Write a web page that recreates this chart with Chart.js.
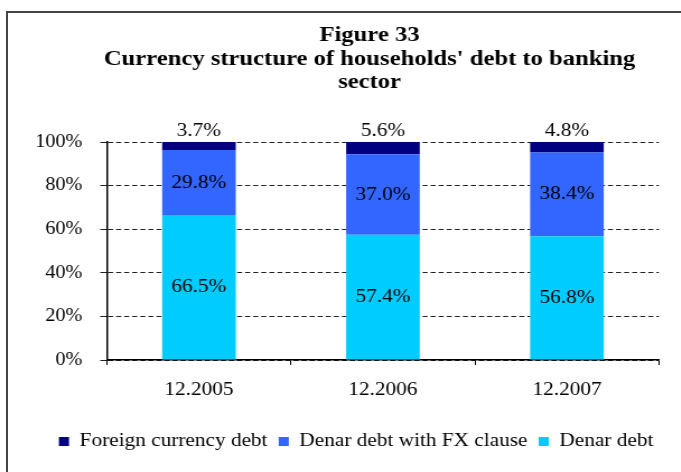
<!DOCTYPE html>
<html>
<head>
<meta charset="utf-8">
<script src="https://cdn.jsdelivr.net/npm/chart.js@4.4.1/dist/chart.umd.min.js"></script>
<style>
  html, body { margin: 0; padding: 0; background: #fff; overflow: hidden; width: 681px; height: 472px; }
  #frame { position: absolute; left: 6px; top: 11px; width: 800px; height: 600px; border: 2px solid #444; }
  #wrap { position: absolute; left: 0; top: 0; width: 710px; height: 472px; }
  /* the source picture is a bit wider than tall, so stretch the canvas sideways */
  #myChart { width: 710px !important; height: 472px !important; }
</style>
</head>
<body>
<div id="frame"></div>
<div id="wrap"><canvas id="myChart" width="634" height="472"></canvas></div>
<script>
// categories and series (percent of total)
var periods = ['12.2005', '12.2006', '12.2007'];
var denarDebt = [66.5, 57.4, 56.8];
var denarFx = [29.8, 37.0, 38.4];
var foreignDebt = [3.7, 5.6, 4.8];
var yTicks = [0, 20, 40, 60, 80, 100];
var titleLines = ['Figure 33', "Currency structure of households' debt to banking", 'sector'];

var serif = '"Liberation Serif", "Times New Roman", serif';

// title drawn by hand, it is not centred on the same box as the legend
var titlePlugin = {
  id: 'titlePlugin',
  afterDraw(chart) {
    var ctx = chart.ctx;
    ctx.save();
    ctx.font = 'bold 22px ' + serif;
    ctx.fillStyle = '#000';
    ctx.textAlign = 'center';
    ctx.textBaseline = 'alphabetic';
    titleLines.forEach((t, i) => {
      ctx.fillText(t, 330, 41 + i * 23.5);
    });
    ctx.restore();
  }
};

// writes the values on the bars, the top one above the bar
var barLabels = {
  id: 'barLabels',
  afterDatasetsDraw(chart) {
    var ctx = chart.ctx;
    ctx.save();
    ctx.font = '19px ' + serif;
    ctx.fillStyle = '#000';
    ctx.textAlign = 'center';
    ctx.textBaseline = 'middle';
    chart.data.datasets.forEach((ds, i) => {
      chart.getDatasetMeta(i).data.forEach((bar, j) => {
        var txt = ds.data[j].toFixed(1) + '%';
        if (i == chart.data.datasets.length - 1) {
          ctx.fillText(txt, bar.x, bar.y - 11);
        } else {
          ctx.fillText(txt, bar.x, (bar.y + bar.base) / 2);
        }
      });
    });
    ctx.restore();
  }
};

new Chart(document.getElementById('myChart'), {
  type: 'bar',
  data: {
    labels: periods,
    datasets: [{
      label: 'Denar debt',
      data: denarDebt,
      backgroundColor: '#00CCFF'
    },
    {
      label: 'Denar debt with FX clause',
      data: denarFx,
      backgroundColor: '#3366FF'
    },
    {
      label: 'Foreign currency debt',
      data: foreignDebt,
      backgroundColor: '#000080'
    }]
  },
  options: {
    responsive: false,
    animation: false,
    devicePixelRatio: 1,
    layout: { padding: { left: 26, right: 24, top: 142, bottom: 11 } },
    datasets: { bar: { categoryPercentage: 1, barPercentage: 0.4 } },
    plugins: {
      title: { display: false },
      legend: {
        position: 'bottom',
        reverse: true,
        labels: {
          color: '#000',
          font: { family: serif, size: 19 },
          boxWidth: 9,
          boxHeight: 9,
          padding: 10
        }
      },
      tooltip: { enabled: false }
    },
    scales: {
      x: {
        stacked: true,
        afterFit: s => { s.height = 62; },
        border: { color: '#000', width: 1.5 },
        grid: { offset: true, drawOnChartArea: false, drawTicks: true, tickLength: 5, color: '#000' },
        ticks: { color: '#000', padding: 14, font: { family: serif, size: 19 } }
      },
      y: {
        stacked: true,
        min: 0,
        max: 100,
        afterFit: s => { s.width = 69.5; },
        afterBuildTicks: s => { s.ticks = yTicks.map(v => ({ value: v })); },
        border: { color: '#000', width: 1.5, dash: [4.5, 2.7] },
        grid: { color: '#222', tickLength: 6, tickBorderDash: [] },
        ticks: { color: '#000', padding: 16, font: { family: serif, size: 18 }, callback: v => v + '%' }
      },
      // empty right axis, only keeps a gap on the right of the plot
      yr: {
        type: 'linear',
        position: 'right',
        afterFit: s => { s.width = 21.6; },
        grid: { display: false, drawTicks: false },
        border: { display: false },
        ticks: { display: false }
      }
    }
  },
  plugins: [barLabels, titlePlugin]
});
</script>
</body>
</html>
